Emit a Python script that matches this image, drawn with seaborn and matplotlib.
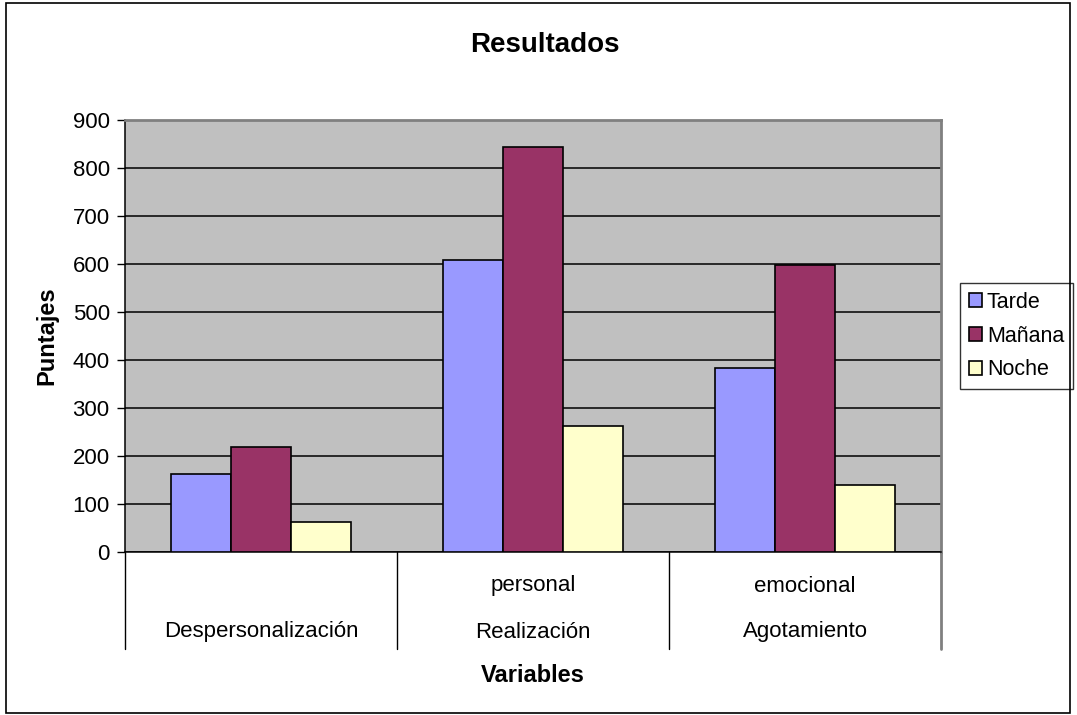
import pandas as pd
import seaborn as sns
import matplotlib.pyplot as plt
from matplotlib.patches import Rectangle
import matplotlib.transforms as mtransforms

categories = ["Despersonalización", "Realización personal", "Agotamiento emocional"]
label_top = ["", "personal", "emocional"]
label_bottom = ["Despersonalización", "Realización", "Agotamiento"]
series = ["Tarde", "Mañana", "Noche"]
tarde = [162, 608, 383]
manana = [218, 844, 597]
noche = [62, 262, 140]
colors = ["#9999FF", "#993366", "#FFFFCC"]

df = pd.DataFrame({
    "Variable": categories * 3,
    "Turno": [s for s in series for _ in categories],
    "Puntaje": tarde + manana + noche,
})

sns.set_style("white")
plt.rcParams["font.family"] = ["Liberation Sans", "DejaVu Sans"]
plt.rcParams["text.color"] = "black"
plt.rcParams["axes.labelcolor"] = "black"
plt.rcParams["ytick.color"] = "black"

fig = plt.figure(figsize=(10.77, 7.15), dpi=100)
ax = fig.add_axes([125 / 1077, 1 - 552 / 715, (941 - 125) / 1077, (552 - 120) / 715])
ax.set_facecolor("#C0C0C0")

sns.barplot(data=df, x="Variable", y="Puntaje", hue="Turno", palette=colors,
            order=categories, hue_order=series, width=0.66, gap=0, saturation=1,
            edgecolor="black", linewidth=1.2, ax=ax, zorder=3)

ax.set_ylim(0, 900)
ax.set_xlim(-0.5, 2.5)
ax.set_yticks(range(0, 901, 100))
ax.yaxis.grid(True, color="black", linewidth=1.1, zorder=1)
ax.set_axisbelow(True)
ax.tick_params(axis="y", direction="out", length=6, width=1, color="black",
               labelsize=16, pad=5, left=True)
ax.set_xticks([])
ax.set_xlabel("")
ax.set_ylabel("Puntajes", fontsize=17, fontweight="bold", labelpad=10)

for side in ["left", "bottom"]:
    ax.spines[side].set_color("black")
    ax.spines[side].set_linewidth(1.1)
for side in ["top", "right"]:
    ax.spines[side].set_color("#808080")
    ax.spines[side].set_linewidth(2)

# category separators below the axis
trans = mtransforms.blended_transform_factory(ax.transData, ax.transAxes)
sep_len = (649 - 552) / 432
for xb in [-0.5, 0.5, 1.5]:
    ax.plot([xb, xb], [0, -sep_len], color="black", linewidth=1, transform=trans, clip_on=False)
ax.plot([2.5, 2.5], [0, -sep_len], color="#808080", linewidth=2, transform=trans, clip_on=False)

for i in range(len(categories)):
    ax.text(i, -(586 - 552) / 432, label_top[i], transform=trans, ha="center", va="center", fontsize=16)
    ax.text(i, -(632 - 552) / 432, label_bottom[i], transform=trans, ha="center", va="center", fontsize=16)

fig.text((124 + 941) / 2 / 1077, 1 - 675 / 715, "Variables", ha="center", va="center",
         fontsize=17, fontweight="bold")
fig.text(545 / 1077, 1 - 45 / 715, "Resultados", ha="center", va="center",
         fontsize=20, fontweight="bold")

handles, labels = ax.get_legend_handles_labels()
ax.legend(handles, labels, loc="center left", bbox_to_anchor=(960 / 1077, 1 - 336 / 715),
          bbox_transform=fig.transFigure, fontsize=15.5, frameon=True, fancybox=False,
          edgecolor="black", handlelength=0.6, handleheight=0.6, handletextpad=0.25,
          borderpad=0.4, labelspacing=0.6, borderaxespad=0)
ax.get_legend().get_frame().set_linewidth(1)

fig.patches.append(Rectangle((6 / 1077, 2 / 715), 1064 / 1077, 710 / 715, fill=False,
                             edgecolor="black", linewidth=1.2, transform=fig.transFigure))

fig.savefig("out.png", dpi=100)
